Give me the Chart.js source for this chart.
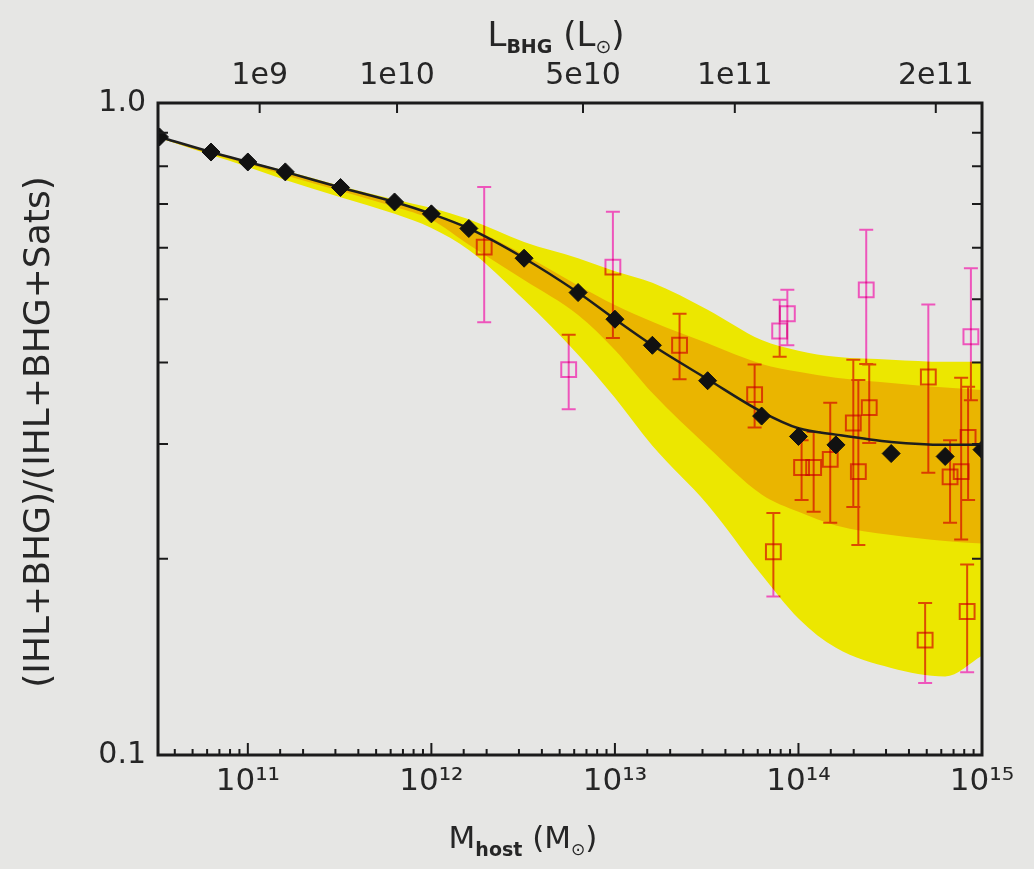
<!DOCTYPE html>
<html>
<head>
<meta charset="utf-8">
<script src="https://cdn.jsdelivr.net/npm/chart.js@4.4.1/dist/chart.umd.min.js"></script>
<style>
  html, body { margin: 0; padding: 0; background: #e6e6e4; }
  #wrap { width: 1034px; height: 869px; }
</style>
</head>
<body>
<div id="wrap"><canvas id="chart" width="1034" height="869"></canvas></div>
<script>
// halo mass grid shared by the model curve and the scatter bands
var massGrid = [3.3e10, 6.3e10, 1e11, 1.6e11, 3.2e11, 6.3e11, 1e12, 1.6e12, 3.2e12, 6.3e12,
                1e13, 1.6e13, 3.2e13, 6.3e13, 1e14, 1.6e14, 3.2e14, 6.3e14, 1e15];
var modelPoints = [0.887, 0.841, 0.812, 0.784, 0.742, 0.705, 0.676, 0.642, 0.578, 0.512,
                   0.466, 0.425, 0.375, 0.331, 0.308, 0.299, 0.290, 0.287, 0.294];
var modelLine   = [0.887, 0.841, 0.812, 0.784, 0.742, 0.705, 0.676, 0.642, 0.578, 0.512,
                   0.466, 0.425, 0.377, 0.336, 0.317, 0.310, 0.302, 0.299, 0.299];
var outerUpper  = [0.888, 0.843, 0.814, 0.787, 0.746, 0.711, 0.690, 0.663, 0.612, 0.578,
                   0.552, 0.530, 0.482, 0.433, 0.417, 0.408, 0.404, 0.401, 0.401];
var innerUpper  = [0.887, 0.841, 0.812, 0.784, 0.742, 0.705, 0.676, 0.645, 0.585, 0.525,
                   0.490, 0.462, 0.428, 0.398, 0.387, 0.379, 0.372, 0.366, 0.363];
var innerLower  = [0.884, 0.835, 0.806, 0.775, 0.733, 0.693, 0.662, 0.606, 0.535, 0.473,
                   0.418, 0.359, 0.297, 0.251, 0.236, 0.225, 0.2175, 0.213, 0.211];
var outerLower  = [0.884, 0.832, 0.798, 0.762, 0.717, 0.676, 0.643, 0.595, 0.499, 0.411,
                   0.353, 0.298, 0.242, 0.189, 0.162, 0.146, 0.136, 0.132, 0.142];

// observed groups/clusters with error bars
var obsMass = [1.94e12, 5.6e12, 9.75e12, 2.25e13, 5.77e13, 7.3e13, 7.9e13, 8.7e13, 2.34e14, 5.1e14, 8.7e14,
               4.9e14, 8.3e14, 1.04e14, 1.21e14, 1.49e14, 1.99e14, 2.12e14, 2.43e14, 6.7e14, 7.7e14, 8.4e14];
var obsFrac = [0.601, 0.390, 0.560, 0.425, 0.357, 0.205, 0.447, 0.475, 0.517, 0.380, 0.438,
               0.150, 0.166, 0.276, 0.276, 0.284, 0.323, 0.272, 0.341, 0.267, 0.272, 0.307];
var obsHigh = [0.743, 0.441, 0.681, 0.475, 0.397, 0.235, 0.499, 0.517, 0.639, 0.491, 0.558,
               0.171, 0.196, 0.304, 0.313, 0.347, 0.404, 0.376, 0.397, 0.304, 0.379, 0.367];
var obsLow  = [0.461, 0.339, 0.436, 0.377, 0.318, 0.175, 0.408, 0.425, 0.398, 0.271, 0.350,
               0.129, 0.134, 0.246, 0.236, 0.227, 0.240, 0.210, 0.301, 0.227, 0.214, 0.246];

// top axis: BHG luminosity at given host mass
var topTickLabels = ['1e9', '1e10', '5e10', '1e11', '2e11'];
var topTickMass = [1.16e11, 6.5e11, 6.7e12, 4.5e13, 5.6e14];

// y axis ticks (labels only at the ends)
var yTickValues = [0.1, 0.2, 0.3, 0.4, 0.5, 0.6, 0.7, 0.8, 0.9, 1.0];
var yTickLabels = ['0.1', '', '', '', '', '', '', '', '', '1.0'];

var xMin = 3.24e10, xMax = 1e15;
var yMin = 0.1, yMax = 1.0;

var YELLOW = '#ece700';
var ORANGE = '#eab500';
var PINK = '#ee55bb';
var INK = '#262626';

function pts(xs, ys) {
  return xs.map(function (x, i) { return { x: x, y: ys[i] }; });
}

var SUP = { '0': '\u2070', '1': '\u00b9', '2': '\u00b2', '3': '\u00b3', '4': '\u2074',
            '5': '\u2075', '6': '\u2076', '7': '\u2077', '8': '\u2078', '9': '\u2079' };
function isDecade(v) {
  var e = Math.log10(v);
  return Math.abs(e - Math.round(e)) < 1e-6;
}

var errorBars = {
  id: 'errorBars',
  beforeDatasetDraw: function (chart, args) {
    if (chart.data.datasets[args.index].label !== 'observed') return;
    var ctx = chart.ctx, xs = chart.scales.x, ys = chart.scales.y;
    ctx.save();
    ctx.globalCompositeOperation = 'multiply';
    ctx.strokeStyle = PINK;
    ctx.lineWidth = 2;
    ctx.beginPath();
    obsMass.forEach(function (m, i) {
      var px = xs.getPixelForValue(m);
      var top = ys.getPixelForValue(obsHigh[i]);
      var bot = ys.getPixelForValue(obsLow[i]);
      ctx.moveTo(px, top); ctx.lineTo(px, bot);
      ctx.moveTo(px - 7, top); ctx.lineTo(px + 7, top);
      ctx.moveTo(px - 7, bot); ctx.lineTo(px + 7, bot);
    });
    ctx.stroke();
  },
  afterDatasetDraw: function (chart, args) {
    if (chart.data.datasets[args.index].label !== 'observed') return;
    chart.ctx.restore();
  }
};

var frameAndTicks = {
  id: 'frameAndTicks',
  afterDatasetsDraw: function (chart) {
    var ctx = chart.ctx, a = chart.chartArea, s = chart.scales;
    ctx.save();
    ctx.strokeStyle = '#1b1b1b';
    ctx.lineWidth = 2;
    ctx.beginPath();
    s.x.ticks.forEach(function (t) {
      var px = s.x.getPixelForValue(t.value);
      if (px <= a.left + 2 || px >= a.right - 2) return;
      var len = isDecade(t.value) ? 12 : 6;
      ctx.moveTo(px, a.bottom); ctx.lineTo(px, a.bottom - len);
    });
    s.x2.ticks.forEach(function (t) {
      var px = s.x2.getPixelForValue(t.value);
      ctx.moveTo(px, a.top); ctx.lineTo(px, a.top + 10);
    });
    s.y.ticks.forEach(function (t) {
      var py = s.y.getPixelForValue(t.value);
      if (py <= a.top + 2 || py >= a.bottom - 2) return;
      ctx.moveTo(a.left, py); ctx.lineTo(a.left + 10, py);
      ctx.moveTo(a.right, py); ctx.lineTo(a.right - 10, py);
    });
    ctx.stroke();
    ctx.lineWidth = 3;
    ctx.strokeRect(a.left, a.top, a.right - a.left, a.bottom - a.top);
    ctx.restore();
  }
};

function drawParts(ctx, parts, cx, baseline) {
  var total = 0;
  parts.forEach(function (p) {
    ctx.font = (p.weight || 'normal') + ' ' + p.size + 'px "DejaVu Sans"';
    p.w = ctx.measureText(p.t).width;
    total += p.w;
  });
  var x = cx - total / 2;
  ctx.textAlign = 'left';
  ctx.textBaseline = 'alphabetic';
  parts.forEach(function (p) {
    ctx.font = (p.weight || 'normal') + ' ' + p.size + 'px "DejaVu Sans"';
    ctx.fillText(p.t, x, baseline + (p.dy || 0));
    x += p.w;
  });
}

var axisTitles = {
  id: 'axisTitles',
  afterDraw: function (chart) {
    var ctx = chart.ctx;
    ctx.save();
    ctx.fillStyle = INK;
    drawParts(ctx, [
      { t: 'M', size: 31 }, { t: 'host', size: 19, dy: 8, weight: 'bold' },
      { t: ' (M', size: 31 }, { t: '\u2299', size: 17, dy: 7 }, { t: ')', size: 31 }
    ], 523, 848);
    drawParts(ctx, [
      { t: 'L', size: 34 }, { t: 'BHG', size: 19, dy: 7, weight: 'bold' },
      { t: ' (L', size: 34 }, { t: '\u2299', size: 19, dy: 7 }, { t: ')', size: 34 }
    ], 556, 46);
    ctx.translate(40, 432);
    ctx.rotate(-Math.PI / 2);
    ctx.textAlign = 'center';
    ctx.textBaseline = 'middle';
    ctx.font = '36px "DejaVu Sans"';
    ctx.fillText('(IHL+BHG)/(IHL+BHG+Sats)', 0, 0);
    ctx.restore();
  }
};

var tickFont = { family: 'DejaVu Sans', size: 30 };

var ctx = document.getElementById('chart').getContext('2d');
var myChart = new Chart(ctx, {
  type: 'line',
  data: {
    datasets: [
      { label: 'outer upper', data: pts(massGrid, outerUpper), fill: '+1', backgroundColor: YELLOW,
        borderWidth: 0, pointRadius: 0, cubicInterpolationMode: 'monotone', order: 10 },
      { label: 'outer lower', data: pts(massGrid, outerLower), fill: false,
        borderWidth: 0, pointRadius: 0, cubicInterpolationMode: 'monotone', order: 9 },
      { label: 'inner upper', data: pts(massGrid, innerUpper), fill: '+1', backgroundColor: ORANGE,
        borderWidth: 0, pointRadius: 0, cubicInterpolationMode: 'monotone', order: 8 },
      { label: 'inner lower', data: pts(massGrid, innerLower), fill: false,
        borderWidth: 0, pointRadius: 0, cubicInterpolationMode: 'monotone', order: 7 },
      { label: 'observed', data: pts(obsMass, obsFrac), showLine: false,
        pointStyle: 'rect', pointRadius: 10.5, pointBorderWidth: 2,
        pointBackgroundColor: 'rgba(0,0,0,0)', pointBorderColor: PINK, order: 6 },
      { label: 'model', data: pts(massGrid, modelLine), borderColor: '#1e1e1e', borderWidth: 2.5,
        pointRadius: 0, fill: false, cubicInterpolationMode: 'monotone', order: 5 },
      { label: 'model points', data: pts(massGrid, modelPoints), showLine: false,
        pointStyle: 'rectRot', pointRadius: 9, pointBackgroundColor: '#111',
        pointBorderColor: '#111', order: 4 }
    ]
  },
  options: {
    responsive: false,
    animation: false,
    events: [],
    layout: { padding: 0 },
    plugins: { legend: { display: false }, tooltip: { enabled: false } },
    scales: {
      x: {
        type: 'logarithmic', position: 'bottom', min: xMin, max: xMax,
        grid: { display: false, drawTicks: false }, border: { display: false },
        ticks: {
          autoSkip: false, maxRotation: 0, padding: 8, color: INK, font: { family: 'DejaVu Sans', size: 31 },
          callback: function (v) {
            if (!isDecade(v)) return '';
            var e = String(Math.round(Math.log10(v)));
            return '10' + e.split('').map(function (c) { return SUP[c]; }).join('');
          }
        },
        afterFit: function (s) { s.height = 114; }
      },
      x2: {
        type: 'logarithmic', position: 'top', min: xMin, max: xMax,
        grid: { display: false, drawTicks: false }, border: { display: false },
        afterBuildTicks: function (s) {
          s.ticks = topTickMass.map(function (m) { return { value: m }; });
        },
        ticks: {
          autoSkip: false, maxRotation: 0, padding: 9, color: INK, font: tickFont,
          callback: function (v, i) { return topTickLabels[i]; }
        },
        afterFit: function (s) { s.height = 103; }
      },
      y: {
        type: 'logarithmic', position: 'left', min: yMin, max: yMax,
        grid: { display: false, drawTicks: false }, border: { display: false },
        afterBuildTicks: function (s) {
          s.ticks = yTickValues.map(function (v) { return { value: v }; });
        },
        ticks: {
          autoSkip: false, padding: 12, color: INK, font: tickFont,
          callback: function (v, i) { return yTickLabels[i]; }
        },
        afterFit: function (s) { s.width = 158; }
      },
      y2: {
        type: 'logarithmic', position: 'right', min: yMin, max: yMax,
        grid: { display: false, drawTicks: false }, border: { display: false },
        ticks: { display: false },
        afterFit: function (s) { s.width = 52; }
      }
    }
  },
  plugins: [errorBars, frameAndTicks, axisTitles]
});
</script>
</body>
</html>
